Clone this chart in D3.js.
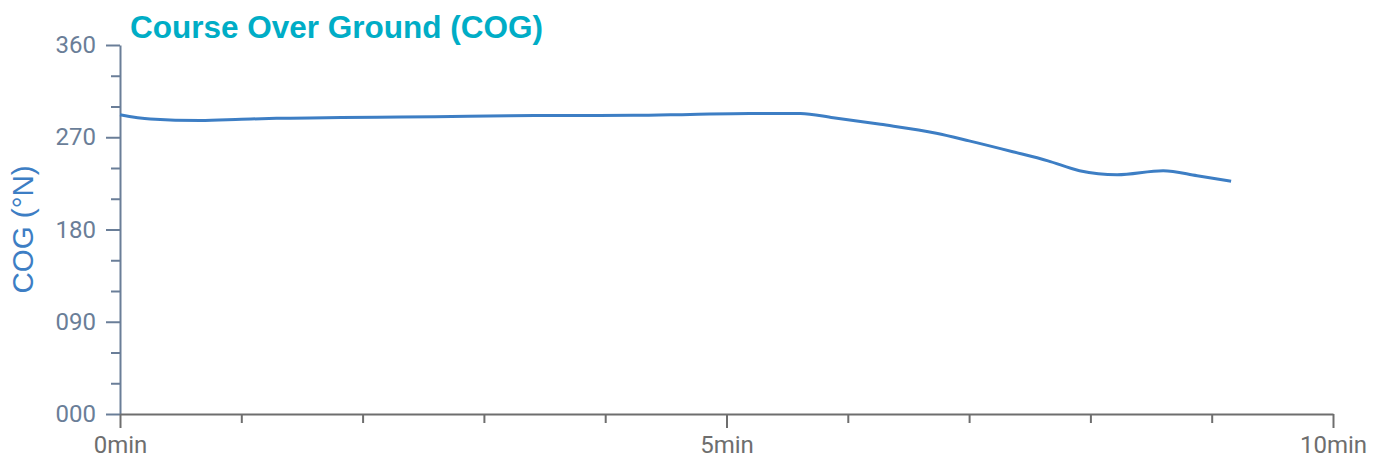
<!DOCTYPE html>
<html>
<head>
<meta charset="utf-8">
<script src="https://cdn.jsdelivr.net/npm/d3@7"></script>
<style>
  html, body { margin: 0; padding: 0; background: #fff; }
  svg { display: block; }
</style>
</head>
<body>
<svg id="chart" width="1384" height="462"></svg>
<script>
// Data: time (minutes) and course over ground (degrees)
const timeMin = [0, 0.25, 0.66, 1.0, 1.29, 1.7, 2.12, 2.6, 3.21, 3.7, 4.23, 4.7, 5.19, 5.61, 5.88, 6.27, 6.73, 7.0, 7.36, 7.65, 7.91, 8.22, 8.6, 8.88, 9.16];
const cogDeg  = [292.0, 287.8, 286.3, 287.5, 288.5, 289.0, 289.5, 290.0, 291.0, 291.2, 291.4, 292.3, 293.2, 293.2, 289.1, 282.6, 273.9, 266.5, 255.9, 247.0, 237.4, 233.5, 237.4, 232.5, 227.0];
const yMajorTicks = [0, 90, 180, 270, 360];
const yMinorTicks = [30, 60, 120, 150, 210, 240, 300, 330];
const xMajorTicks = [0, 5, 10];
const xMinorTicks = [1, 2, 3, 4, 6, 7, 8, 9];
const titleText = "Course Over Ground (COG)";
const yLabelText = "COG (°N)";

const svg = d3.select("#chart");
const margin = { left: 120, right: 51, top: 45, bottom: 48 };
const W = 1384, H = 462;

const x = d3.scaleLinear().domain([0, 10]).range([margin.left, W - margin.right]);
const y = d3.scaleLinear().domain([0, 360]).range([H - margin.bottom, margin.top]);

const yColor = "#6a7e98";
const xColor = "#6e6e6e";
const tickFont = "Roboto, 'Liberation Sans', Arial, sans-serif";

// Y minor ticks
const yMinor = svg.append("g").attr("transform", `translate(${x(0)},0)`)
  .call(d3.axisLeft(y).tickValues(yMinorTicks).tickSize(9).tickFormat(""));
yMinor.select(".domain").remove();
yMinor.selectAll("line").attr("stroke", yColor).attr("stroke-width", 2);

// Y major axis
const yAxis = svg.append("g").attr("transform", `translate(${x(0)},0)`)
  .call(d3.axisLeft(y).tickValues(yMajorTicks).tickSize(14).tickSizeOuter(0).tickPadding(10).tickFormat(d3.format("03d")));
yAxis.select(".domain").attr("stroke", yColor).attr("stroke-width", 2);
yAxis.selectAll("line").attr("stroke", yColor).attr("stroke-width", 2);
yAxis.selectAll("text").attr("fill", yColor).style("font-family", tickFont).style("font-size", "24px");

// X minor ticks
const xMinor = svg.append("g").attr("transform", `translate(0,${y(0)})`)
  .call(d3.axisBottom(x).tickValues(xMinorTicks).tickSize(9).tickFormat(""));
xMinor.select(".domain").remove();
xMinor.selectAll("line").attr("stroke", xColor).attr("stroke-width", 2);

// X major axis
const xAxis = svg.append("g").attr("transform", `translate(0,${y(0)})`)
  .call(d3.axisBottom(x).tickValues(xMajorTicks).tickSize(14).tickSizeOuter(0).tickPadding(8).tickFormat(d => d + "min"));
xAxis.select(".domain").attr("stroke", xColor).attr("stroke-width", 2);
xAxis.selectAll("line").attr("stroke", xColor).attr("stroke-width", 2);
xAxis.selectAll("text").attr("fill", xColor).style("font-family", tickFont).style("font-size", "24px");

// Line
const pts = timeMin.map((t, i) => [t, cogDeg[i]]);
const line = d3.line().x(d => x(d[0])).y(d => y(d[1])).curve(d3.curveMonotoneX);
svg.append("path").datum(pts)
  .attr("d", line)
  .attr("fill", "none")
  .attr("stroke", "#3d7ec4")
  .attr("stroke-width", 3)
  .attr("stroke-linejoin", "round");

// Title
svg.append("text")
  .attr("x", 130).attr("y", 38)
  .attr("fill", "#00adc6")
  .style("font-family", "'Liberation Sans', Arial, sans-serif")
  .style("font-weight", "bold")
  .style("font-size", "31.5px")
  .text(titleText);

// Y label
svg.append("text")
  .attr("transform", `translate(33,${(y(0) + y(360)) / 2}) rotate(-90)`)
  .attr("text-anchor", "middle")
  .attr("fill", "#3d7ec4")
  .style("font-family", "'Liberation Sans', Arial, sans-serif")
  .style("font-size", "29.5px")
  .text(yLabelText);
</script>
</body>
</html>
